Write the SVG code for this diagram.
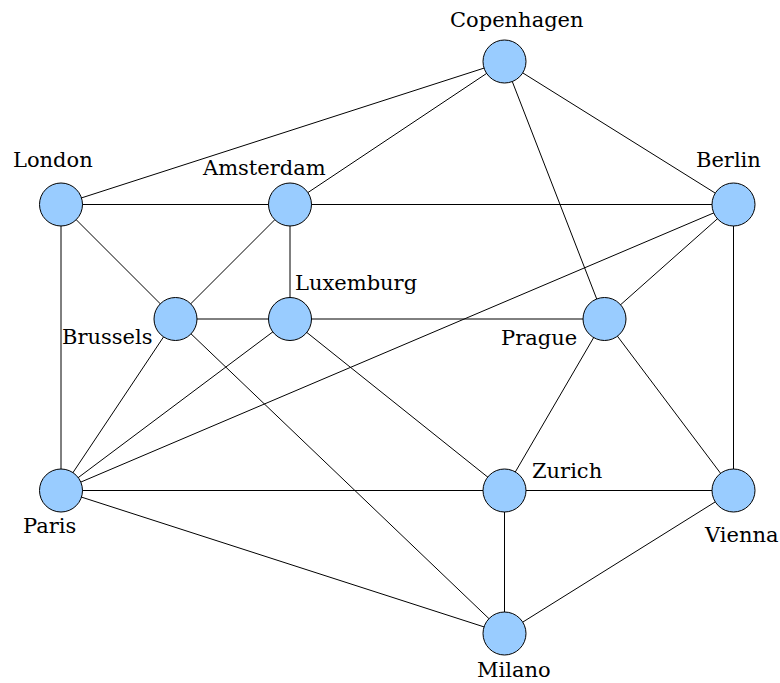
<svg xmlns="http://www.w3.org/2000/svg" width="780" height="683" viewBox="0 0 780 683">
  <style>
    .edge { stroke: #000; stroke-width: 1; fill: none; }
    .city { fill: #99ccff; stroke: #000; stroke-width: 1; }
    .label { font-family: "DejaVu Serif", serif; font-size: 21px; fill: #000; }
  </style>
  <rect width="780" height="683" fill="#fff"/>
  <g id="connectors">
    <line class="edge" x1="504.5" y1="61.5" x2="61" y2="204.5"/>
    <line class="edge" x1="504.5" y1="61.5" x2="290" y2="204.5"/>
    <line class="edge" x1="504.5" y1="61.5" x2="733.5" y2="204.5"/>
    <line class="edge" x1="504.5" y1="61.5" x2="604.5" y2="319"/>
    <line class="edge" x1="61" y1="204.5" x2="290" y2="204.5"/>
    <line class="edge" x1="61" y1="204.5" x2="175.5" y2="319"/>
    <line class="edge" x1="61" y1="204.5" x2="61" y2="490.5"/>
    <line class="edge" x1="290" y1="204.5" x2="733.5" y2="204.5"/>
    <line class="edge" x1="290" y1="204.5" x2="175.5" y2="319"/>
    <line class="edge" x1="290" y1="204.5" x2="290" y2="319"/>
    <line class="edge" x1="733.5" y1="204.5" x2="61" y2="490.5"/>
    <line class="edge" x1="733.5" y1="204.5" x2="604.5" y2="319"/>
    <line class="edge" x1="733.5" y1="204.5" x2="733.5" y2="490.5"/>
    <line class="edge" x1="175.5" y1="319" x2="290" y2="319"/>
    <line class="edge" x1="175.5" y1="319" x2="61" y2="490.5"/>
    <line class="edge" x1="175.5" y1="319" x2="504.5" y2="633.5"/>
    <line class="edge" x1="290" y1="319" x2="604.5" y2="319"/>
    <line class="edge" x1="290" y1="319" x2="61" y2="490.5"/>
    <line class="edge" x1="290" y1="319" x2="504.5" y2="490.5"/>
    <line class="edge" x1="604.5" y1="319" x2="504.5" y2="490.5"/>
    <line class="edge" x1="604.5" y1="319" x2="733.5" y2="490.5"/>
    <line class="edge" x1="61" y1="490.5" x2="504.5" y2="490.5"/>
    <line class="edge" x1="61" y1="490.5" x2="504.5" y2="633.5"/>
    <line class="edge" x1="504.5" y1="490.5" x2="733.5" y2="490.5"/>
    <line class="edge" x1="504.5" y1="490.5" x2="504.5" y2="633.5"/>
    <line class="edge" x1="733.5" y1="490.5" x2="504.5" y2="633.5"/>
  </g>
  <g id="copenhagen">
    <circle class="city" cx="504.5" cy="61.5" r="21.5"/>
    <text class="label" x="450" y="27">Copenhagen</text>
  </g>
  <g id="london">
    <circle class="city" cx="61" cy="204.5" r="21.5"/>
    <text class="label" x="13" y="167">London</text>
  </g>
  <g id="amsterdam">
    <circle class="city" cx="290" cy="204.5" r="21.5"/>
    <text class="label" x="203" y="175">Amsterdam</text>
  </g>
  <g id="berlin">
    <circle class="city" cx="733.5" cy="204.5" r="21.5"/>
    <text class="label" x="696" y="167">Berlin</text>
  </g>
  <g id="brussels">
    <circle class="city" cx="175.5" cy="319" r="21.5"/>
    <text class="label" x="62" y="344">Brussels</text>
  </g>
  <g id="luxemburg">
    <circle class="city" cx="290" cy="319" r="21.5"/>
    <text class="label" x="295" y="290">Luxemburg</text>
  </g>
  <g id="prague">
    <circle class="city" cx="604.5" cy="319" r="21.5"/>
    <text class="label" x="501" y="345">Prague</text>
  </g>
  <g id="paris">
    <circle class="city" cx="61" cy="490.5" r="21.5"/>
    <text class="label" x="23" y="533">Paris</text>
  </g>
  <g id="zurich">
    <circle class="city" cx="504.5" cy="490.5" r="21.5"/>
    <text class="label" x="532" y="478">Zurich</text>
  </g>
  <g id="vienna">
    <circle class="city" cx="733.5" cy="490.5" r="21.5"/>
    <text class="label" x="705" y="542">Vienna</text>
  </g>
  <g id="milano">
    <circle class="city" cx="504.5" cy="633.5" r="21.5"/>
    <text class="label" x="477" y="677">Milano</text>
  </g>
</svg>
